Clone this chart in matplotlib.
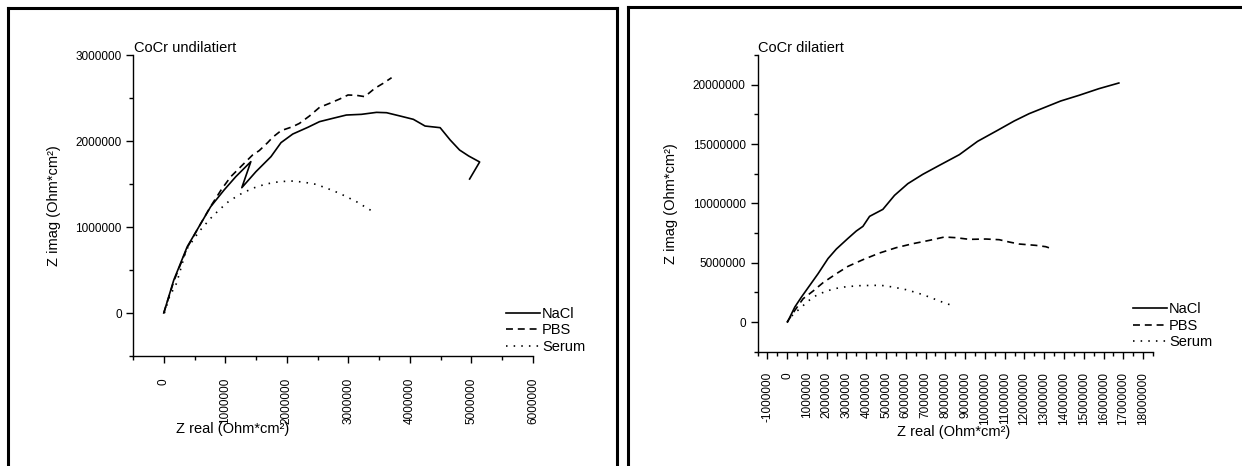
import numpy as np
import matplotlib.pyplot as plt
from matplotlib.lines import Line2D
from matplotlib.ticker import MultipleLocator, FuncFormatter

plt.rcParams['font.family'] = ['Liberation Sans', 'DejaVu Sans']
plt.rcParams['lines.scale_dashes'] = False

# CoCr undilatiert
und_nacl_x = [0, 0.163, 0.381, 0.572, 0.762, 0.980, 1.170, 1.415, 1.268, 1.497, 1.742, 1.905,
              2.096, 2.341, 2.531, 2.749, 2.967, 3.212, 3.457, 3.620, 3.838, 4.056, 4.246,
              4.491, 4.654, 4.807, 4.954, 5.133, 4.970]
und_nacl_y = [0, 0.384, 0.771, 1.004, 1.236, 1.430, 1.585, 1.760, 1.457, 1.643, 1.818, 1.981,
              2.081, 2.159, 2.225, 2.264, 2.302, 2.310, 2.333, 2.329, 2.291, 2.252, 2.174,
              2.155, 2.012, 1.895, 1.826, 1.756, 1.558]
und_pbs_x = [0, 0.163, 0.381, 0.572, 0.762, 0.940, 1.089, 1.279, 1.443, 1.551, 1.688, 1.769,
             1.905, 2.096, 2.205, 2.368, 2.531, 2.695, 2.858, 2.994, 3.130, 3.266, 3.429,
             3.566, 3.702]
und_pbs_y = [0, 0.370, 0.760, 1.004, 1.240, 1.440, 1.585, 1.721, 1.837, 1.888, 1.981, 2.043,
             2.120, 2.167, 2.205, 2.291, 2.391, 2.438, 2.488, 2.535, 2.531, 2.516, 2.612,
             2.671, 2.736]
und_ser_x = [0.011, 0.093, 0.207, 0.365, 0.572, 0.762, 0.898, 1.062, 1.252, 1.443, 1.660,
             1.878, 2.069, 2.259, 2.477, 2.695, 2.858, 3.130, 3.266, 3.402]
und_ser_y = [0, 0.190, 0.345, 0.733, 0.946, 1.101, 1.198, 1.302, 1.384, 1.450, 1.500,
             1.527, 1.535, 1.523, 1.496, 1.438, 1.391, 1.295, 1.236, 1.178]

# CoCr dilatiert
dil_nacl_x = [0.017, 0.387, 0.723, 1.143, 1.563, 2.067, 2.487, 3.076, 3.496, 3.832, 4.168,
              4.840, 5.429, 6.101, 6.857, 7.697, 8.706, 9.630, 10.639, 11.479, 12.235,
              13.076, 13.832, 14.756, 15.765, 16.773]
dil_nacl_y = [0, 1.264, 2.107, 3.090, 4.073, 5.350, 6.150, 7.050, 7.669, 8.062, 8.904,
              9.494, 10.674, 11.657, 12.444, 13.202, 14.101, 15.225, 16.152, 16.938, 17.556,
              18.118, 18.624, 19.101, 19.663, 20.140]
dil_pbs_x = [0, 0.387, 0.807, 1.311, 1.815, 2.487, 3.076, 3.832, 4.672, 5.513, 6.353, 7.193,
             7.950, 8.538, 9.210, 10.050, 10.723, 11.227, 11.731, 12.571, 13.076, 13.378]
dil_pbs_y = [0, 0.983, 1.966, 2.612, 3.315, 4.073, 4.691, 5.253, 5.815, 6.264, 6.601, 6.882,
             7.163, 7.107, 6.966, 6.994, 6.938, 6.742, 6.573, 6.461, 6.348, 6.180]
dil_ser_x = [0, 0.303, 0.639, 1.059, 1.479, 1.983, 2.487, 2.992, 3.664, 4.336, 4.756, 5.345,
             6.017, 6.605, 7.193, 7.697, 8.319]
dil_ser_y = [0, 0.646, 1.124, 1.770, 2.247, 2.612, 2.837, 2.978, 3.062, 3.090, 3.090, 2.949,
             2.725, 2.444, 2.107, 1.770, 1.404]

labels = ['NaCl', 'PBS', 'Serum']
styles = ['-', (0, (5, 3.5)), (0, (1.1, 4.4))]

W, H = 1242, 466
fig = plt.figure(figsize=(W / 100, H / 100), dpi=100)

def fx(px):
    return px / W

def fy(py):
    return 1 - py / H

ax1 = fig.add_axes([fx(133), fy(356), fx(400), 301 / H])
ax2 = fig.add_axes([fx(757.5), fy(351.7), fx(395.5), 296.7 / H])

fmt = FuncFormatter(lambda v, p: f"{v:.0f}")

panels = [
    (ax1, [(und_nacl_x, und_nacl_y), (und_pbs_x, und_pbs_y), (und_ser_x, und_ser_y)]),
    (ax2, [(dil_nacl_x, dil_nacl_y), (dil_pbs_x, dil_pbs_y), (dil_ser_x, dil_ser_y)]),
]
for ax, series in panels:
    for (xs, ys), ls, lab in zip(series, styles, labels):
        ax.plot(np.array(xs) * 1e6, np.array(ys) * 1e6, color='black', lw=1.2,
                linestyle=ls, label=lab)
    for s in ['top', 'right']:
        ax.spines[s].set_visible(False)
    for s in ['left', 'bottom']:
        ax.spines[s].set_linewidth(1.0)
    ax.xaxis.set_major_formatter(fmt)
    ax.yaxis.set_major_formatter(fmt)
    ax.tick_params(which='major', direction='out', length=5, width=1, labelsize=8.5)
    ax.tick_params(which='minor', direction='out', length=3, width=1)
    ax.tick_params(axis='x', labelrotation=90)

# left panel axes
ax1.set_xlim(-500000, 6000000)
ax1.set_ylim(-500000, 3000000)
ax1.xaxis.set_major_locator(MultipleLocator(1000000))
ax1.xaxis.set_minor_locator(MultipleLocator(500000))
ax1.yaxis.set_major_locator(MultipleLocator(1000000))
ax1.yaxis.set_minor_locator(MultipleLocator(500000))
ax1.tick_params(axis='x', pad=10.8)
ax1.tick_params(axis='y', pad=3)
ax1.set_xlabel('Z real (Ohm*cm²)', fontsize=10.5)
ax1.xaxis.set_label_coords(0.25, -0.219)
ax1.set_ylabel('Z imag (Ohm*cm²)', fontsize=10.5)
ax1.yaxis.set_label_coords(-0.18, 0.5)

# right panel axes
ax2.set_xlim(-1500000, 18500000)
ax2.set_ylim(-2500000, 22500000)
ax2.xaxis.set_major_locator(MultipleLocator(1000000))
ax2.xaxis.set_minor_locator(MultipleLocator(500000))
ax2.yaxis.set_major_locator(MultipleLocator(5000000))
ax2.yaxis.set_minor_locator(MultipleLocator(2500000))
ax2.tick_params(axis='x', pad=9.6)
ax2.tick_params(axis='y', pad=3.5)
ax2.set_xlabel('Z real (Ohm*cm²)', fontsize=10.5)
ax2.xaxis.set_label_coords(0.497, -0.247)
ax2.set_ylabel('Z imag (Ohm*cm²)', fontsize=10.5)
ax2.yaxis.set_label_coords(-0.2, 0.5)

fig.text(fx(134), fy(47.5), 'CoCr undilatiert', fontsize=10.5, va='center', ha='left')
fig.text(fx(758), fy(47.5), 'CoCr dilatiert', fontsize=10.5, va='center', ha='left')

for ax, lx, ly in [(ax1, 506, 330.5), (ax2, 1133, 325.7)]:
    ax.legend(loc='center left', bbox_to_anchor=(fx(lx), fy(ly)),
              bbox_transform=fig.transFigure, frameon=False, fontsize=10.5,
              borderpad=0, borderaxespad=0, handlelength=2.33, handletextpad=0.15,
              labelspacing=0.18)

# panel frames
lw_frame = 2.2
frame_lines = [
    ([8.3, 8.3], [H + 10, 7.5]),
    ([8.3, 616.5], [7.5, 7.5]),
    ([616.5, 616.5], [7.5, H + 10]),
    ([627.5, 627.5], [H + 10, 7.3]),
    ([627.5, W + 10], [7.3, 7.3]),
]
for xs, ys in frame_lines:
    fig.add_artist(Line2D([fx(v) for v in xs], [fy(v) for v in ys], color='black',
                          lw=lw_frame, transform=fig.transFigure, solid_capstyle='projecting'))

fig.savefig('out.png', dpi=100, facecolor='white')
